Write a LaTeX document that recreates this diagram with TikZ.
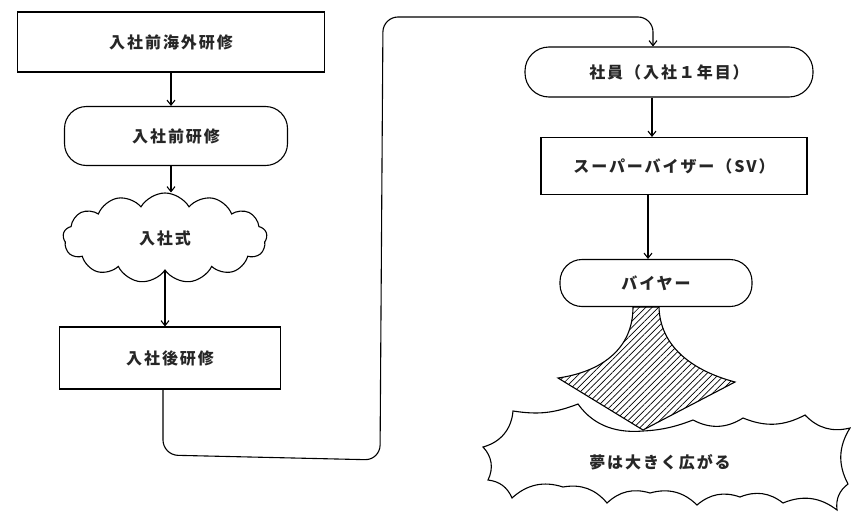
\documentclass[tikz,border=0pt]{standalone}
\usepackage{fontspec}
\setmainfont{Noto Sans CJK JP}[LetterSpace=12]
\usetikzlibrary{shapes.symbols,shapes.misc,patterns.meta,calc,arrows.meta}
\begin{document}
\begin{tikzpicture}[x=1pt,y=-1pt,
  lw/.style={line width=1.1pt},
  txt/.style={font=\fontsize{16}{19}\selectfont\bfseries,text=black!85},
  box/.style={draw,lw,rectangle,inner sep=0pt,txt},
  stad/.style={draw,lw,rectangle,rounded corners=22pt,inner sep=0pt,txt},
  cl/.style={draw,lw,cloud,cloud puffs=13,cloud puff arc=120,aspect=2.3,inner sep=0pt,txt},
  arr/.style={lw,-{Straight Barb[length=5pt,width=8pt]}},
  hatch/.style={lw,pattern={Lines[angle=45,distance=4.5pt,line width=0.7pt]}}]
\useasboundingbox (0,0) rectangle (851,514);
% left column
\node[box,minimum width=307pt,minimum height=60pt] (b1) at (171,42) {入社前海外研修};
\node[stad,minimum width=223pt,minimum height=59pt] (b2) at (176,136) {入社前研修};
\node[cl,minimum width=204pt,minimum height=90pt] (b3) at (165,238) {入社式};
\node[box,minimum width=221pt,minimum height=62pt] (b4) at (170,358) {入社後研修};
% right column
\node[stad,rounded corners=24pt,minimum width=288pt,minimum height=50pt] (e1) at (669,72) {社員（入社１年目）};
\node[box,minimum width=266pt,minimum height=57pt] (e2) at (674,166) {スーパーバイザー（SV）};
\node[stad,rounded corners=22pt,minimum width=192pt,minimum height=47pt] (e3) at (656,283) {バイヤー};
% arrows
\draw[arr] (b1.south) -- (b1.south |- b2.north);
\draw[arr] ($(b2.south)+(-5,0)$) -- ($(b2.south |- b3.north)+(-5,0)$);
\draw[arr] (b3.south) -- (b3.south |- b4.north);
\draw[arr,rounded corners=15pt] ($(b4.south)+(-7,0)$) -- (163,455) -- (380,460) -- (383,17) -- (653,17) -- ($(e1.north)+(-16,0)$);
\draw[arr] ($(e1.south)+(-17,0)$) -- ($(e1.south |- e2.north)+(-17,0)$);
\draw[arr] ($(e2.south)+(-26,0)$) -- ($(e2.south |- e3.north)+(-26,0)$);
% hatched funnel
\draw[hatch] (633,307) .. controls (633,350) and (600,372) .. (558,378)
  -- (643,430) -- (735,382) .. controls (690,370) and (660,345) .. (659,307) -- cycle;
% explosion
\draw[lw,fill=white] (483,447) to[bend right=35] (513,411) to[bend right=15] (578,404)
  .. controls (595,428) and (620,433) .. (643,431) .. controls (665,430) and (680,425) .. (693,420)
  to[bend right=30] (743,418) to[bend right=25] (805,415) to[bend right=30] (850,428)
  to[bend right=30] (848,484) to[bend right=30] (837,510) to[bend right=30] (783,503)
  to[bend right=30] (740,497) to[bend right=30] (697,505) to[bend right=30] (650,493)
  to[bend right=30] (607,503) to[bend right=30] (563,487) to[bend right=30] (512,498)
  to[bend right=30] (488,480) to[bend right=35] cycle;
\node[txt] (dream) at (660,462) {夢は大きく広がる};
\end{tikzpicture}
\end{document}
